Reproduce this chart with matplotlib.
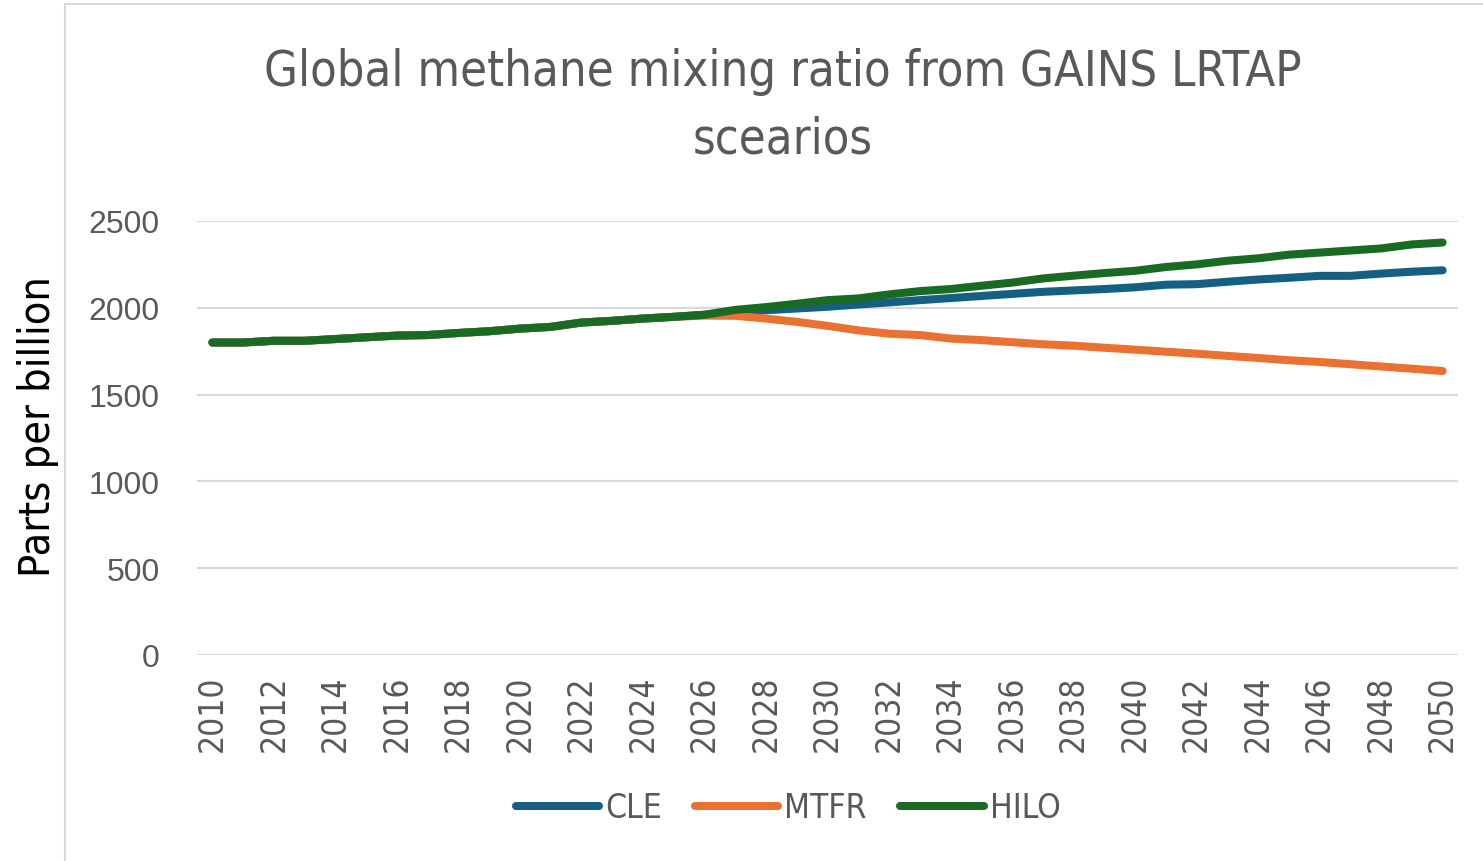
import numpy as np
import matplotlib.pyplot as plt
from matplotlib.patches import Rectangle
from matplotlib import font_manager

# data
years = list(range(2010, 2051))
common = [1800, 1800, 1810, 1810, 1820, 1830, 1840, 1843, 1855, 1865,
          1880, 1890, 1915, 1925, 1938, 1948, 1960]
cle = common + [1975, 1986, 1996, 2006, 2019, 2031, 2044, 2056, 2068, 2080,
                2092, 2100, 2108, 2118, 2133, 2136, 2150, 2163, 2173, 2184,
                2184, 2197, 2208, 2216]
mtfr = common[:-1] + [1955, 1954, 1938, 1919, 1896, 1870, 1851, 1843, 1823,
                      1814, 1802, 1790, 1782, 1770, 1759, 1747, 1736, 1723,
                      1711, 1698, 1688, 1675, 1662, 1649, 1636]
hilo = common + [1988, 2004, 2023, 2044, 2054, 2077, 2096, 2108, 2127, 2145,
                 2169, 2185, 2200, 2213, 2235, 2250, 2271, 2285, 2306, 2318,
                 2330, 2342, 2365, 2376]
names = ["CLE", "MTFR", "HILO"]
colors = ["#156082", "#E97132", "#196B24"]

# look for a condensed regular font, fall back to Liberation Sans
cond = None
for f in font_manager.fontManager.ttflist:
    s = str(f.stretch).lower()
    if (("condensed" in s or "narrow" in s or "Narrow" in f.name or "Condensed" in f.name)
            and f.style == "normal" and f.weight in (400, "normal", "regular")):
        cond = f
        break
if cond is not None:
    nfont = font_manager.FontProperties(fname=cond.fname)
    found = True
else:
    nfont = font_manager.FontProperties(family="Liberation Sans")
    found = False


def fp(size):
    p = nfont.copy()
    p.set_size(size)
    return p


k = 1.0 if found else 0.88  # wider fallback font gets a smaller size

fig = plt.figure(figsize=(14.83, 8.62), dpi=100)
W, H = 1483, 862

# chart border (only left and top visible in the crop)
fig.patches.append(Rectangle((65 / W, -0.1), 1.2, 1 - 5 / H + 0.1,
                             transform=fig.transFigure, fill=False,
                             edgecolor="#D9D9D9", linewidth=1.5))

ax = fig.add_axes([197 / W, 1 - 656 / H, 1261 / W, 434 / H])
for vals, name, c in zip([cle, mtfr, hilo], names, colors):
    ax.plot(years, vals, color=c, lw=5.8, solid_capstyle="round",
            solid_joinstyle="round", label=name, clip_on=False)

ax.set_xlim(2009.5, 2050.5)
ax.set_ylim(0, 2500)
ax.set_yticks(range(0, 2501, 500))
ax.set_xticks(range(2010, 2051, 2))
ax.grid(axis="y", color="#D9D9D9", lw=1.5)
ax.set_axisbelow(True)
for s in ax.spines.values():
    s.set_visible(False)
ax.tick_params(length=0)
ax.tick_params(axis="y", pad=27, labelsize=23, labelcolor="#595959")
ax.tick_params(axis="x", pad=14, labelrotation=90, labelcolor="#595959")
for t in ax.get_yticklabels():
    t.set_fontfamily("Liberation Sans")
for t in ax.get_xticklabels():
    t.set_fontproperties(fp(24 * k))
    t.set_color("#595959")

fig.text(38 / W, 1 - 427 / H, "Parts per billion", rotation=90, ha="center",
         va="center", fontproperties=fp(31 * k), color="black")

fig.text(783 / W, 1 - 106 / H, "Global methane mixing ratio from GAINS LRTAP\nscearios",
         ha="center", va="center", fontproperties=fp(35 * k), color="#595959",
         linespacing=1.5)

leg = fig.legend(loc="center", bbox_to_anchor=(788 / W, 1 - 809 / H), ncol=3,
                 frameon=False, handlelength=2.5, handletextpad=0.18,
                 columnspacing=1.0, prop=fp(24 * k))
for t in leg.get_texts():
    t.set_color("#595959")

plt.savefig("out.png", dpi=100)
